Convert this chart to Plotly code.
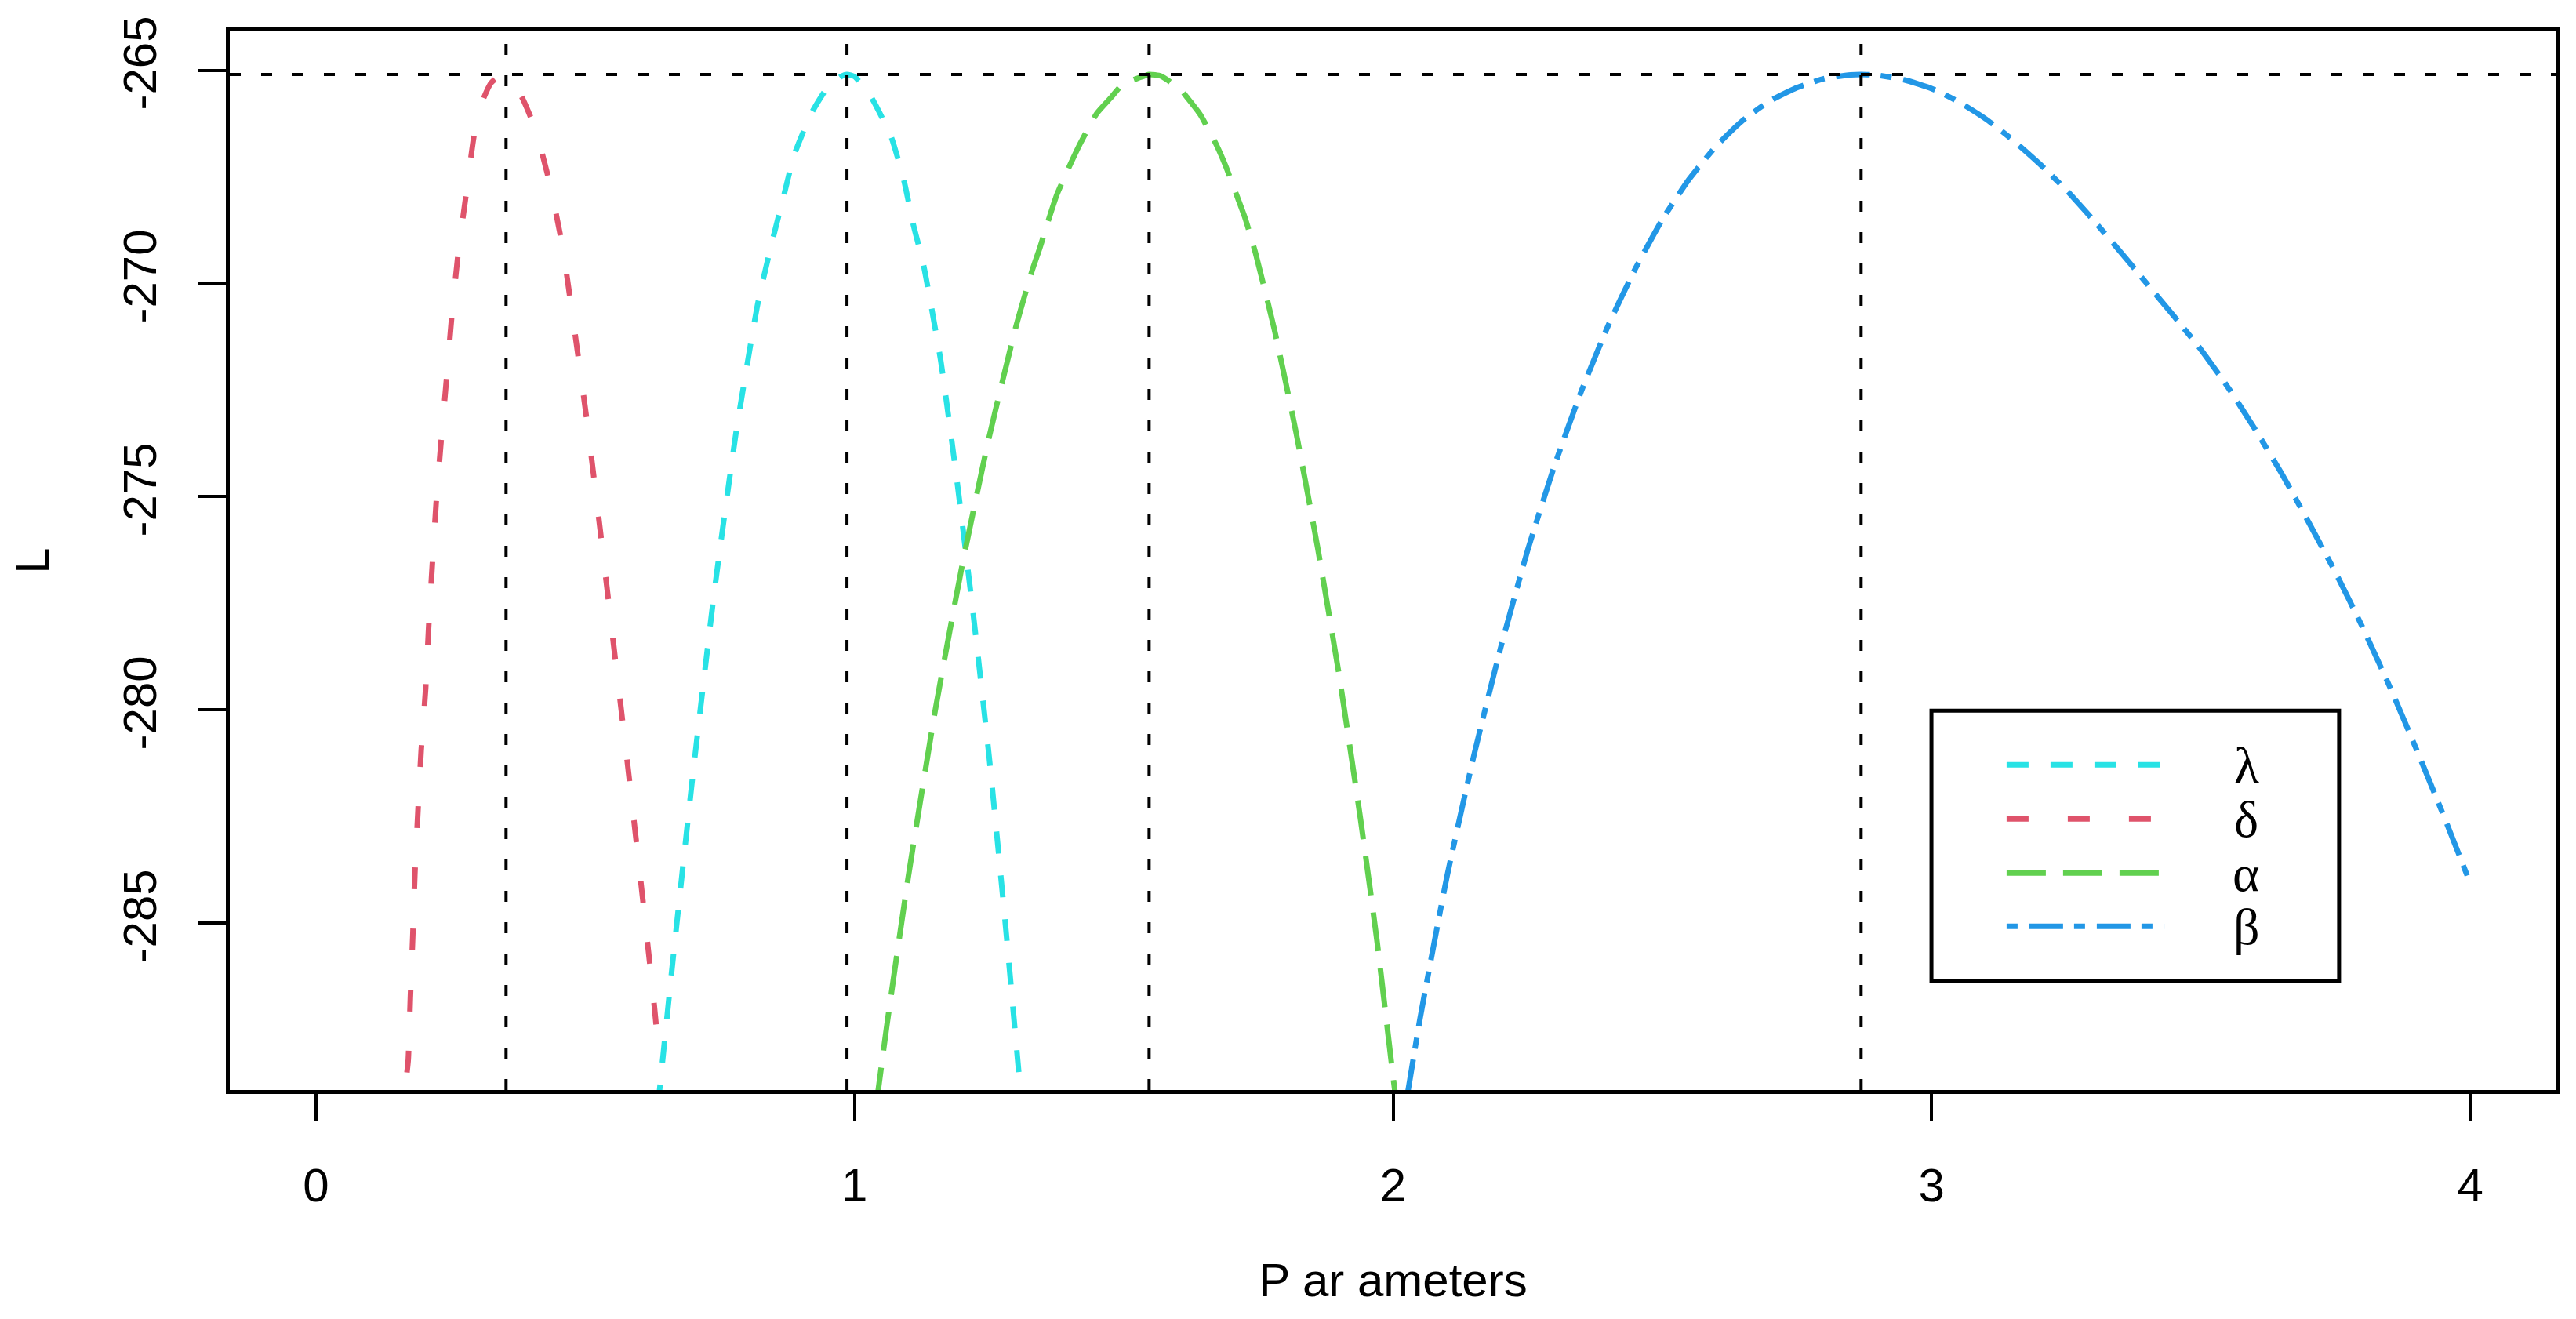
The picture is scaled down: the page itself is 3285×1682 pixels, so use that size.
import plotly.graph_objects as go

# profile log-likelihood curves, one per parameter
lam_x = [0.635, 0.66, 0.70, 0.74, 0.78, 0.82, 0.846, 0.867, 0.888, 0.92, 0.95, 0.975, 0.986,
         1.00, 1.03, 1.068, 1.092, 1.109, 1.128, 1.16, 1.19, 1.22, 1.25, 1.28, 1.31]
lam_L = [-289.3, -286.2, -281.5, -277.2, -273.5, -270.5, -269.07, -268.03, -266.99, -266.01, -265.4, -265.15, -265.1,
         -265.15, -265.61, -266.56, -267.6, -268.61, -269.56, -271.8, -274.6, -277.7, -281.1, -285.0, -289.2]

delta_x = [0.169, 0.1714, 0.1753, 0.1798, 0.1837, 0.1893, 0.1954, 0.2037, 0.2093, 0.216, 0.2232, 0.2327,
           0.242, 0.252, 0.264, 0.279, 0.294, 0.31, 0.325, 0.34, 0.353, 0.366, 0.385, 0.405, 0.42, 0.435,
           0.458, 0.478, 0.503, 0.528, 0.553, 0.578, 0.603, 0.628, 0.637]
delta_L = [-288.5, -288.2, -286.75, -285.3, -283.85, -282.4, -280.95, -279.5, -278.05, -276.6, -275.15, -273.65,
           -272.3, -270.8, -269.3, -267.9, -266.5, -265.7, -265.3, -265.15, -265.12, -265.25, -265.7, -266.3, -266.95, -267.7,
           -269.15, -270.9, -273.2, -275.8, -278.5, -281.2, -284.0, -286.9, -288.1]

alpha_x = [1.04, 1.06, 1.10, 1.15, 1.20, 1.25, 1.30, 1.33, 1.344, 1.363, 1.376, 1.402, 1.419, 1.45, 1.477,
           1.497, 1.528, 1.547, 1.569, 1.606, 1.617, 1.642, 1.672, 1.689, 1.711, 1.725, 1.744, 1.78, 1.82,
           1.86, 1.90, 1.94, 1.97, 2.00, 2.01]
alpha_L = [-289.3, -287.4, -283.9, -280.0, -276.6, -273.6, -271.0, -269.69, -269.17, -268.4, -267.91, -267.17, -266.72, -266.01, -265.63,
           -265.34, -265.18, -265.1, -265.14, -265.46, -265.63, -266.04, -266.75, -267.24, -267.98, -268.46, -269.26, -271.1, -273.5,
           -276.2, -279.2, -282.6, -285.4, -288.6, -289.6]

beta_x = [2.02, 2.027, 2.05, 2.10, 2.15, 2.20, 2.25, 2.30, 2.35, 2.40, 2.45, 2.50, 2.55, 2.60, 2.65, 2.70,
          2.75, 2.80, 2.85, 2.869, 2.90, 2.95, 3.00, 3.05, 3.10, 3.15, 3.20, 3.25, 3.30, 3.35, 3.40, 3.45,
          3.50, 3.55, 3.60, 3.65, 3.70, 3.75, 3.80, 3.85, 3.90, 3.95, 4.00]
beta_L = [-289.5, -288.99, -287.24, -283.91, -281.07, -278.53, -276.25, -274.26, -272.51, -270.97, -269.65, -268.5,
          -267.55, -266.78, -266.17, -265.72, -265.41, -265.2, -265.11, -265.1, -265.12, -265.23, -265.43, -265.74,
          -266.14, -266.63, -267.19, -267.81, -268.51, -269.25, -270.01, -270.77, -271.55, -272.43, -273.41,
          -274.46, -275.6, -276.78, -278.06, -279.44, -280.92, -282.46, -284.06]

# estimates and maximised log-likelihood
mle = [0.353, 0.986, 1.547, 2.869]
L_max = -265.1

names = ["λ", "δ", "α", "β"]
colors = ["#28E2E5", "#DF536B", "#61D04F", "#2297E6"]
dashes = ["28px,28px", "28px,50px", "50px,22px", "14px,15px,43px,14px"]
xs = [lam_x, delta_x, alpha_x, beta_x]
ys = [lam_L, delta_L, alpha_L, beta_L]

x_ticks = [0, 1, 2, 3, 4]
y_ticks = [-285, -280, -275, -270, -265]
y_labels = ["-285", "-280", "-275", "-270", "-265"]

fig = go.Figure()
for i in range(4):
    fig.add_trace(go.Scatter(x=xs[i], y=ys[i], mode="lines", name=names[i],
                             line=dict(color=colors[i], width=7, dash=dashes[i], shape="spline", smoothing=0.5),
                             showlegend=False))

# reference lines at the maximum
fig.add_hline(y=L_max, line=dict(color="black", width=4, dash="14px,26px"))
for m in mle:
    fig.add_vline(x=m, line=dict(color="black", width=4, dash="14px,26px"))

# legend box drawn by hand (R style)
fig.add_shape(type="rect", xref="paper", yref="paper", x0=0.7314, x1=0.9066, y0=0.1026, y1=0.3583,
              line=dict(color="black", width=5), fillcolor="white", layer="above")
row_y = [0.3072, 0.2561, 0.2050, 0.1546]
for i in range(4):
    fig.add_shape(type="line", xref="paper", yref="paper", x0=0.7637, x1=0.8315, y0=row_y[i], y1=row_y[i],
                  line=dict(color=colors[i], width=7, dash=dashes[i]), layer="above")
    fig.add_annotation(xref="paper", yref="paper", x=0.8668, y=row_y[i], text=names[i], showarrow=False,
                       font=dict(family="Liberation Serif", size=66, color="black"),
                       xanchor="center", yanchor="middle")

axis_font = dict(family="Liberation Sans, Arial, sans-serif", size=60, color="black")
fig.update_xaxes(range=[-0.16, 4.16], tickvals=x_ticks, ticks="outside", ticklen=35, tickwidth=4,
                 tickcolor="black", showline=True, linewidth=5, linecolor="black", mirror=True,
                 showgrid=False, zeroline=False, tickfont=axis_font, ticklabelstandoff=30, automargin=False,
                 title=dict(text="P ar ameters", font=axis_font, standoff=68))
fig.update_yaxes(range=[-288.91, -264.09], tickvals=y_ticks, ticktext=y_labels, ticks="outside", ticklen=35,
                 tickwidth=4, tickcolor="black", showline=True, linewidth=5, linecolor="black", mirror=True,
                 showgrid=False, zeroline=False, tickfont=axis_font, tickangle=-90, ticklabelstandoff=30,
                 automargin=False, title=dict(text="L", font=axis_font, standoff=85))

fig.update_layout(width=3285, height=1682, margin=dict(l=285, r=33, t=32, b=300),
                  paper_bgcolor="white", plot_bgcolor="white", showlegend=False)

fig.write_html("out.html")
